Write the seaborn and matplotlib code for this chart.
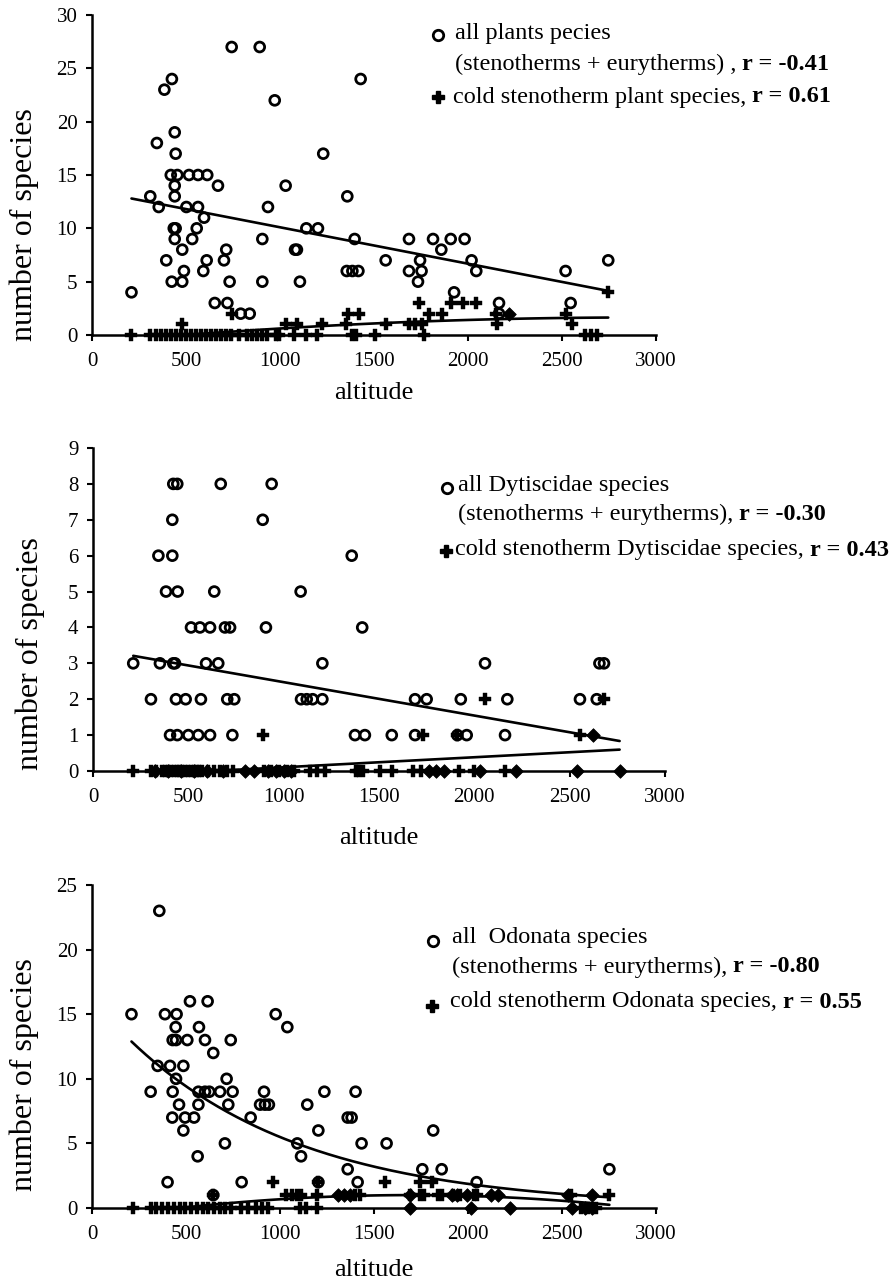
import numpy as np
import matplotlib
matplotlib.use("Agg")
import matplotlib.pyplot as plt
import seaborn as sns
from matplotlib.lines import Line2D

# ---------------- data ----------------
# "all" = open circles, "cold" = crosses, "both" = sites where the circle and the cross
# coincide (drawn as a filled blob in the original); trend lines use all sites.

# Panel 1: plants
p1_all_alt = [210,310,355,345,385,425,440,445,419,454,440,440,516,564,613,670,502,564,596,557,
              533,435,445,440,480,395,424,480,489,592,610,714,702,732,653,720,791,839,743,892,
              972,936,906,906,1030,1080,1090,1106,1140,1202,1230,1358,1397,1355,1385,1417,1429,1562,1686,1686,
              1745,1753,1734,1814,1858,1908,1926,1982,2019,2044,2165,2165,2519,2546,2746]
p1_all_n = [4,13,12,18,23,24,19,17,15,15,14,13,15,15,15,14,12,12,11,10,
            9,10,10,9,8,7,5,5,6,6,7,8,7,5,3,3,2,2,27,27,
            22,12,9,5,14,8,8,5,10,10,17,13,9,6,6,6,24,7,9,6,
            7,6,5,9,8,9,4,9,7,6,3,2,6,3,7]
p1_cold_alt = [209,309,339,365,392,418,445,472,498,525,551,578,604,631,658,684,711,740,782,826,
               853,879,906,930,977,995,1076,1137,1199,1385,1403,1503,1768,2623,2655,2684,
               480,1030,1092,1226,1350,1562,1686,1720,1757,2155,2552,
               743,1360,1420,1793,1862,2147,2519,
               1739,1910,1975,2045,
               2746]
p1_cold_n = [0,0,0,0,0,0,0,0,0,0,0,0,0,0,0,0,0,0,0,0,
             0,0,0,0,0,0,0,0,0,0,0,0,0,0,0,0,
             1,1,1,1,1,1,1,1,1,1,1,
             2,2,2,2,2,2,2,
             3,3,3,3,
             4]
p1_both_alt = [2218]
p1_both_n = [2]

# Panel 2: Dytiscidae
p2_all_alt = [421,442,670,937,
              416,890,
              343,416,1357,
              383,444,636,1089,
              514,561,614,692,719,907,1412,
              211,351,421,430,593,657,1203,2056,2656,2680,
              304,435,486,566,704,741,1091,1121,1152,1203,1689,1750,1929,2173,2554,2642,
              404,442,500,552,614,731,1374,1426,1567,1689,1911,1960,2161]
p2_all_n = [8,8,8,8,
            7,7,
            6,6,6,
            5,5,5,5,
            4,4,4,4,4,4,4,
            3,3,3,3,3,3,3,3,3,3,
            2,2,2,2,2,2,2,2,2,2,2,2,2,2,2,2,
            1,1,1,1,1,1,1,1,1,1,1,1,1]
p2_cold_alt = [209,303,333,363,378,393,408,423,438,453,468,483,498,513,528,543,558,574,604,635,
               665,705,734,896,936,976,1016,1056,1136,1176,1217,1377,1397,1417,1507,1568,1678,1718,1919,1999,
               2160,
               890,1729,1911,2554,
               2056,2680]
p2_cold_n = [0,0,0,0,0,0,0,0,0,0,0,0,0,0,0,0,0,0,0,0,
             0,0,0,0,0,0,0,0,0,0,0,0,0,0,0,0,0,0,0,0,
             0,
             1,1,1,1,
             2,2]
p2_both_alt = [325,395,460,530,600,680,795,845,920,960,1000,1040,1760,1800,1840,2030,2220,2541,2762,2624]
p2_both_n = [0,0,0,0,0,0,0,0,0,0,0,0,0,0,0,0,0,0,0,1]

# Panel 3: Odonata
p3_all_alt = [210,358,312,349,402,388,450,445,429,447,507,521,615,569,601,645,738,415,486,447,
              429,566,601,624,681,748,716,463,566,725,427,495,543,486,707,562,796,844,915,894,
              920,941,977,1039,1145,1236,1204,1092,1112,1204,1360,1381,1402,1434,1360,1413,1567,1815,1757,1860,
              2046,2752,645]
p3_all_n = [15,23,9,11,2,15,15,14,13,13,13,16,16,14,13,12,13,11,11,10,
            9,9,9,9,9,9,10,8,8,8,7,7,7,6,5,4,2,7,9,8,
            8,8,15,14,8,9,6,5,4,2,7,7,9,5,3,2,5,6,3,3,
            2,3,1]
p3_cold_alt = [217,313,343,374,404,435,466,496,527,557,588,618,649,679,710,740,791,832,872,903,
               934,1106,1137,1198,2600,2640,2680,
               645,1033,1063,1092,1110,1198,1400,1424,1694,1747,1768,1842,1860,1920,1960,2030,
               2046,2547,2752,
               961,1204,1559,1747,1810]
p3_cold_n = [0,0,0,0,0,0,0,0,0,0,0,0,0,0,0,0,0,0,0,0,
             0,0,0,0,0,0,0,
             1,1,1,1,1,1,1,1,1,1,1,1,1,1,1,1,
             1,1,1,
             2,2,2,2,2]
p3_both_alt = [1311,1340,1370,1691,1914,1940,1993,2125,2162,2534,2660,1691,2017,2226,2552,2620,2660]
p3_both_n = [1,1,1,1,1,1,1,1,1,1,1,0,0,0,0,0,0]

x_ticks = [0, 500, 1000, 1500, 2000, 2500, 3000]
y_ticks = [[0, 5, 10, 15, 20, 25, 30], [0, 1, 2, 3, 4, 5, 6, 7, 8, 9], [0, 5, 10, 15, 20, 25]]

legend_lines = [
    ("all plants pecies", "(stenotherms + eurytherms) ,", "r = -0.41",
     "cold stenotherm plant species,", "r = 0.61"),
    ("all Dytiscidae species", "(stenotherms + eurytherms),", "r = -0.30",
     "cold stenotherm Dytiscidae species,", "r = 0.43"),
    ("all  Odonata species", "(stenotherms + eurytherms),", "r = -0.80",
     "cold stenotherm Odonata species,", "r = 0.55"),
]

# ---------------- style ----------------
sns.set_style("white")
plt.rcParams["font.family"] = ["Liberation Serif", "DejaVu Serif"]

W, H = 895, 1281
fig = plt.figure(figsize=(W / 100, H / 100), dpi=100)


def px_axes(l, t, r, b):
    return fig.add_axes([l / W, 1 - b / H, (r - l) / W, (b - t) / H])


boxes = [(92, 15, 656, 335), (93, 448, 665, 771), (92, 885, 656, 1208)]
ylims = [30, 9, 25]
xlabel_y = [393, 838, 1270]
ylabel_pos = [(24, 225), (30, 654), (24, 1075)]

panels = [
    (p1_all_alt, p1_all_n, p1_cold_alt, p1_cold_n, p1_both_alt, p1_both_n, "lin", 2),
    (p2_all_alt, p2_all_n, p2_cold_alt, p2_cold_n, p2_both_alt, p2_both_n, "lin", 1),
    (p3_all_alt, p3_all_n, p3_cold_alt, p3_cold_n, p3_both_alt, p3_both_n, "exp", 2),
]

for i, (box, pan) in enumerate(zip(boxes, panels)):
    l, t, r, b = box
    ax = px_axes(l, t, r, b)
    a_alt, a_n, c_alt, c_n, d_alt, d_n, fit_kind, c_order = pan
    a_alt = np.array(a_alt, float); a_n = np.array(a_n, float)
    c_alt = np.array(c_alt, float); c_n = np.array(c_n, float)
    d_alt = np.array(d_alt, float); d_n = np.array(d_n, float)

    sns.scatterplot(x=c_alt, y=c_n, marker="P", s=80, color="black", edgecolor="black",
                    linewidth=0.3, ax=ax, clip_on=False, zorder=3)
    sns.scatterplot(x=d_alt, y=d_n, marker="D", s=48, color="black", edgecolor="black",
                    ax=ax, clip_on=False, zorder=3)
    sns.scatterplot(x=a_alt, y=a_n, marker="o", s=50, facecolor="none", edgecolor="black",
                    linewidth=2.0, ax=ax, clip_on=False, zorder=4)

    # trend lines over all sites of each series
    fa_x = np.concatenate([a_alt, d_alt]); fa_y = np.concatenate([a_n, d_n])
    fc_x = np.concatenate([c_alt, d_alt]); fc_y = np.concatenate([c_n, d_n])
    if fit_kind == "lin":
        sns.regplot(x=fa_x, y=fa_y, scatter=False, ci=None, order=1, color="black",
                    line_kws={"lw": 1.9}, ax=ax, truncate=True)
    else:
        pos = fa_y > 0
        bcoef, acoef = np.polyfit(fa_x[pos], np.log(fa_y[pos]), 1)
        xs = np.linspace(fa_x[pos].min(), fa_x[pos].max(), 200)
        sns.lineplot(x=xs, y=np.exp(acoef + bcoef * xs), color="black", lw=1.9, ax=ax)
    sns.regplot(x=fc_x, y=fc_y, scatter=False, ci=None, order=c_order, color="black",
                line_kws={"lw": 1.9}, ax=ax, truncate=True)

    ax.set_xlim(0, 3000)
    ax.set_ylim(0, ylims[i])
    ax.set_xticks(x_ticks)
    ax.set_yticks(y_ticks[i])
    for s in ("top", "right"):
        ax.spines[s].set_visible(False)
    for s in ("left", "bottom"):
        ax.spines[s].set_color("black")
        ax.spines[s].set_linewidth(1.8)
    ax.tick_params(axis="both", direction="out", length=4.5, width=1.5, color="black",
                   labelsize=15, labelcolor="black", left=True, bottom=True)
    ax.tick_params(axis="x", pad=8)
    ax.tick_params(axis="y", pad=6)

    ax.set_xlabel("altitude", fontsize=19, color="black")
    ax.xaxis.set_label_coords(0.5, -(xlabel_y[i] - b) / (b - t))
    ax.xaxis.label.set_va("center")
    ax.set_ylabel("number of species", fontsize=23, color="black")
    yx, yy = ylabel_pos[i]
    ax.yaxis.set_label_coords((yx - l) / (r - l), (b - yy) / (b - t))
    ax.yaxis.label.set_va("center")

# ---------------- legends (text boxes as in the original) ----------------
renderer = fig.canvas.get_renderer()
LEG = 17.5


def put_parts(x, y, parts):
    cx = x
    for txt, wt in parts:
        tt = fig.text(cx / W, 1 - y / H, txt, fontsize=LEG, fontweight=wt,
                      va="center", ha="left", color="black")
        bb = tt.get_window_extent(renderer)
        cx += bb.width + 0.25 * LEG * 100 / 72


leg_pos = [
    # circle marker, line1, line2, cross marker, line3
    ((438, 35), (455, 33), (455, 64), (438, 97), (453, 97)),
    ((447, 488), (458, 485), (458, 514), (446, 551), (455, 550)),
    ((433, 941), (452, 937), (452, 967), (432, 1006), (450, 1002)),
]
for (l1, l2a, l2b, l3a, l3b), (cm, p1, p2, xm, p3) in zip(legend_lines, leg_pos):
    fig.add_artist(Line2D([cm[0] / W], [1 - cm[1] / H], marker="o", markersize=7.5,
                          markerfacecolor="none", markeredgecolor="black", markeredgewidth=2.0,
                          linestyle="none", transform=fig.transFigure))
    fig.add_artist(Line2D([xm[0] / W], [1 - xm[1] / H], marker="P", markersize=9,
                          color="black", linestyle="none", transform=fig.transFigure))
    put_parts(p1[0], p1[1], [(l1, "normal")])
    put_parts(p2[0], p2[1], [(l2a, "normal"), (l2b, "bold")])
    put_parts(p3[0], p3[1], [(l3a, "normal"), (l3b, "bold")])

fig.savefig("out.png", dpi=100, facecolor="white")
